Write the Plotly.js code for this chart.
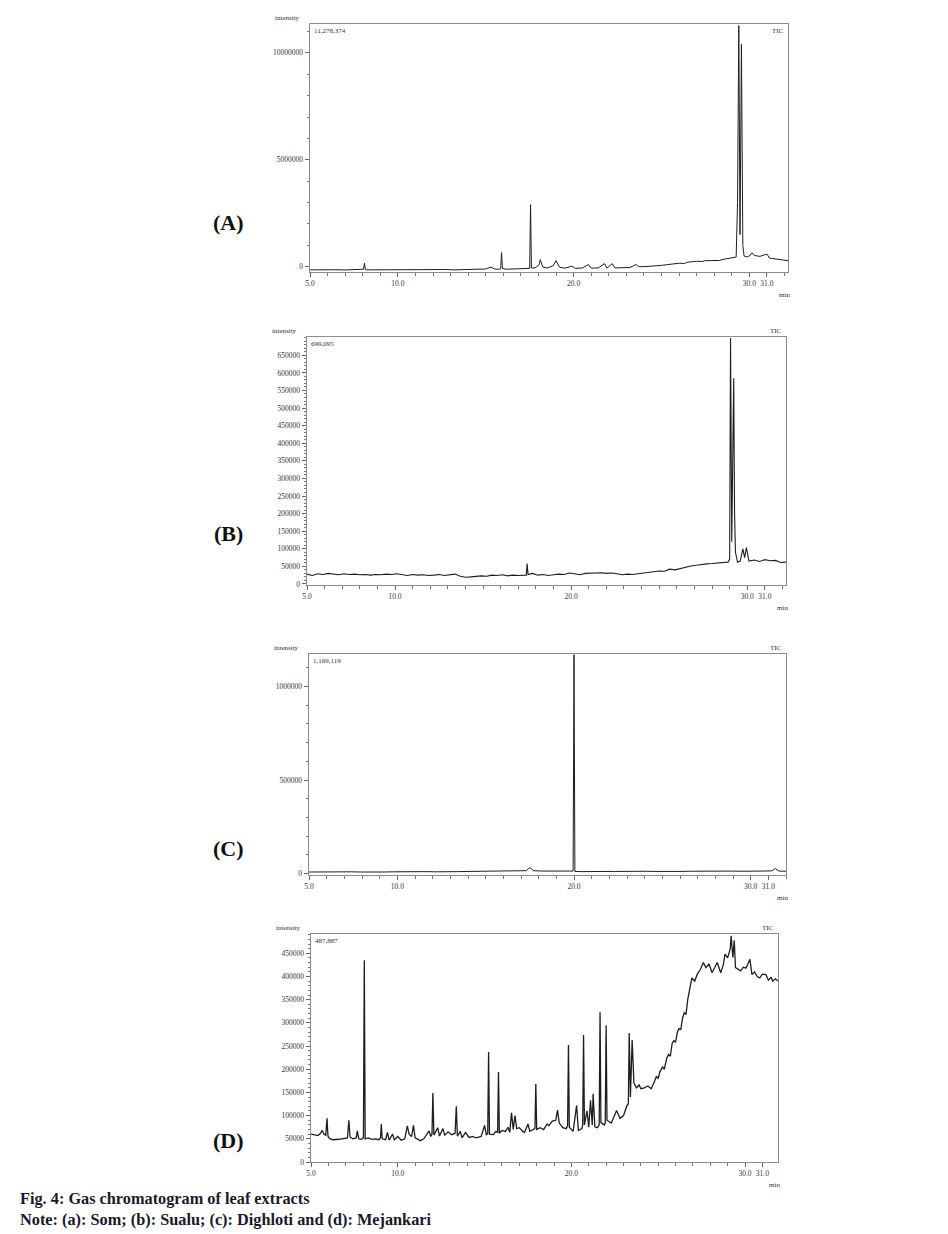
<!DOCTYPE html>
<html><head><meta charset="utf-8">
<script src="https://cdn.plot.ly/plotly-3.0.1.min.js"></script>
<style>html,body{margin:0;padding:0;background:#fff;}#chart{width:948px;height:1234px;}</style>
</head><body><div id="chart"></div>
<script>
// ---- Panel A: Som ----
const timeA = [5.0,5.5,6.0,6.5,7.0,7.5,8.0,8.05,8.1,8.15,8.2,8.7,9.2,9.7,10.2,10.7,11.2,11.7,12.2,12.7,13.2,13.7,14.2,14.7,15.0,15.3,15.5,15.8,15.85,15.9,15.95,16.2,16.6,17.0,17.4,17.5,17.55,17.6,17.8,18.05,18.1,18.25,18.5,18.85,19.0,19.2,19.5,19.9,20.1,20.5,20.85,21.0,21.4,21.76,21.9,22.2,22.35,22.8,23.2,23.55,23.7,24.0,24.5,25.0,25.3,25.5,26.0,26.3,26.5,27.0,27.3,27.5,28.0,28.3,28.5,29.0,29.25,29.33,29.4,29.47,29.55,29.63,29.7,29.85,30.0,30.15,30.3,30.6,31.0,31.15,31.5,32.0,32.2];
const intensityA = [-150000,-140000,-160000,-145000,-155000,-140000,-150000,-120000,170000,-130000,-150000,-145000,-160000,-140000,-150000,-155000,-140000,-150000,-145000,-135000,-150000,-130000,-140000,-120000,-110000,-20000,-110000,-120000,-100000,660000,-90000,-120000,-110000,-100000,-100000,-80000,2900000,-60000,-60000,100000,330000,-20000,-60000,50000,280000,-30000,-70000,20000,-80000,-60000,100000,-70000,-60000,140000,-70000,140000,-60000,-50000,-40000,100000,0,0,20000,60000,90000,110000,160000,150000,210000,250000,240000,280000,300000,290000,340000,400000,450000,3000000,11278374,1500000,10400000,1000000,500000,450000,500000,650000,520000,480000,590000,400000,350000,300000,280000];

// ---- Panel B: Sualu ----
const timeB = [5.0,5.3,5.6,5.9,6.2,6.5,6.8,7.1,7.4,7.7,8.0,8.3,8.6,8.9,9.2,9.5,9.8,10.1,10.4,10.7,11.0,11.3,11.6,11.9,12.2,12.5,12.8,13.1,13.4,13.7,14.0,14.3,14.6,14.9,15.2,15.5,15.8,16.1,16.4,16.7,17.0,17.3,17.45,17.5,17.55,17.8,18.1,18.4,18.7,19.0,19.3,19.6,19.9,20.2,20.5,20.8,21.1,21.4,21.7,22.0,22.3,22.6,22.9,23.2,23.5,23.8,24.1,24.4,24.7,25.0,25.3,25.6,25.9,26.2,26.5,26.8,27.1,27.4,27.7,28.0,28.3,28.6,28.9,29.0,29.05,29.12,29.18,29.23,29.28,29.33,29.45,29.6,29.75,29.85,29.95,30.1,30.4,30.7,31.0,31.3,31.6,31.9,32.2];
const intensityB = [28000,24000,29000,27000,30000,28000,26000,29000,27000,28000,26000,27000,25000,27000,26000,28000,27000,29000,26000,24000,27000,25000,26000,24000,25000,27000,24000,26000,28000,22000,19000,20000,22000,23000,22000,25000,24000,26000,23000,25000,24000,26000,25000,58000,27000,30000,25000,27000,24000,26000,28000,27000,31000,29000,26000,30000,31000,30000,32000,30000,31000,29000,26000,28000,27000,29000,31000,33000,35000,37000,36000,42000,40000,44000,48000,51000,53000,56000,57000,58000,60000,61000,62000,70000,699095,120000,330000,585000,200000,90000,62000,65000,100000,75000,103000,65000,68000,64000,69000,66000,67000,61000,62000];

// ---- Panel C: Dighloti ----
const timeC = [5.0,5.6,6.2,6.8,7.4,8.0,8.6,9.2,9.8,10.4,11.0,11.6,12.2,12.8,13.4,14.0,14.6,15.2,15.8,16.4,17.0,17.3,17.5,17.7,18.2,18.8,19.4,19.95,20.0,20.05,20.5,21.1,21.7,22.3,22.9,23.5,24.1,24.7,25.3,25.9,26.5,27.1,27.7,28.3,28.9,29.5,30.1,30.7,31.2,31.4,31.6,32.0];
const intensityC = [9000,10000,8000,9000,10000,9000,11000,9000,10000,11000,10000,11000,10000,12000,11000,12000,13000,14000,15000,13000,14000,16000,33000,16000,14000,15000,13000,14000,1169119,12000,11000,13000,12000,12000,13000,12000,13000,12000,14000,12000,13000,14000,12000,13000,14000,13000,12000,14000,15000,27000,14000,13000];

// ---- Panel D: Mejankari ----
const timeD = [5.0,5.2,5.4,5.55,5.65,5.75,5.85,5.92,5.98,6.1,6.3,6.6,6.9,7.1,7.18,7.25,7.4,7.6,7.67,7.75,7.9,8.02,8.07,8.12,8.3,8.5,8.7,8.9,9.0,9.05,9.1,9.3,9.4,9.5,9.7,9.8,10.0,10.2,10.4,10.55,10.65,10.8,10.9,11.0,11.3,11.5,11.8,11.9,11.97,12.02,12.08,12.3,12.4,12.6,12.7,12.9,13.1,13.3,13.37,13.43,13.6,13.7,13.9,14.1,14.3,14.5,14.8,15.0,15.1,15.18,15.23,15.28,15.5,15.65,15.75,15.8,15.85,16.0,16.2,16.35,16.45,16.55,16.65,16.75,16.85,17.0,17.2,17.3,17.5,17.6,17.8,17.9,17.95,18.0,18.2,18.4,18.6,18.7,18.9,19.1,19.2,19.3,19.5,19.7,19.78,19.83,19.88,20.1,20.3,20.4,20.6,20.65,20.7,20.75,20.9,21.0,21.1,21.2,21.25,21.35,21.5,21.6,21.65,21.7,21.9,21.95,22.0,22.05,22.3,22.6,22.8,23.0,23.2,23.28,23.33,23.4,23.5,23.6,23.75,23.9,24.0,24.2,24.4,24.6,24.8,24.9,25.0,25.1,25.25,25.35,25.5,25.6,25.7,25.8,25.9,26.0,26.1,26.2,26.3,26.4,26.5,26.6,26.7,26.8,26.94,27.1,27.25,27.43,27.6,27.75,27.93,28.1,28.25,28.4,28.6,28.75,28.85,29.0,29.15,29.2,29.3,29.38,29.45,29.6,29.75,29.9,30.05,30.17,30.28,30.4,30.55,30.7,30.85,31.0,31.2,31.35,31.5,31.6,31.75,31.9];
const intensityD = [60000,58000,57000,62000,68000,60000,58000,94000,55000,50000,48000,49000,50000,52000,90000,54000,50000,52000,67000,50000,49000,52000,435000,50000,52000,49000,50000,48000,52000,82000,50000,48000,64000,47000,60000,48000,55000,47000,50000,78000,60000,55000,79000,52000,46000,50000,67000,55000,60000,149000,58000,74000,56000,72000,58000,65000,59000,62000,120000,56000,66000,52000,64000,53000,55000,52000,55000,79000,58000,62000,237000,60000,59000,66000,64000,194000,62000,68000,66000,75000,64000,106000,70000,100000,72000,74000,66000,64000,82000,66000,70000,72000,168000,70000,74000,70000,82000,78000,88000,90000,112000,84000,74000,72000,78000,252000,75000,66000,122000,68000,72000,80000,274000,80000,110000,75000,133000,80000,147000,76000,74000,80000,323000,85000,80000,85000,295000,90000,84000,111000,94000,100000,122000,125000,278000,140000,263000,170000,160000,166000,158000,160000,164000,158000,175000,185000,180000,195000,205000,200000,225000,232000,228000,255000,262000,258000,280000,288000,285000,310000,322000,318000,350000,372000,397000,390000,405000,415000,430000,419000,427000,408000,420000,430000,408000,425000,448000,440000,460000,487887,441000,478000,419000,415000,412000,420000,418000,427000,437000,404000,410000,400000,397000,405000,404000,392000,398000,390000,395000,390000];

// tick labels
const xTickVals = [5, 10, 20, 30, 31];
const xTickText = ['5.0', '10.0', '20.0', '30.0', '31.0'];
const yTicksA = [0, 5000000, 10000000];
const yTicksB = [0,50000,100000,150000,200000,250000,300000,350000,400000,450000,500000,550000,600000,650000];
const yTicksC = [0, 500000, 1000000];
const yTicksD = [0,50000,100000,150000,200000,250000,300000,350000,400000,450000];
const maxLabels = ['11,278,374', '699,095', '1,169,119', '487,887'];
const panelLetters = ['(A)', '(B)', '(C)', '(D)'];
const captionLines = ['Fig. 4: Gas chromatogram of leaf extracts', 'Note: (a): Som; (b): Sualu; (c): Dighloti and (d): Mejankari'];

const W = 948, H = 1234;
const px = x => x / W, py = y => 1 - y / H;
const panels = [
  {box:[310,788,24,272], xr:[5,32.2], yr:[-250000,11350000], yt:yTicksA, ym:1000000, t:timeA, v:intensityA, lbl:222, tic:'in', lw:1},
  {box:[307,786,337,585], xr:[5,32.2], yr:[-3000,702000], yt:yTicksB, ym:10000, t:timeB, v:intensityB, lbl:533, tic:'out', lw:1.1},
  {box:[309,786,654,875], xr:[5,32.0], yr:[-7000,1173000], yt:yTicksC, ym:100000, t:timeC, v:intensityC, lbl:848, tic:'out', lw:1},
  {box:[311,778,934,1162], xr:[5,31.9], yr:[0,491600], yt:yTicksD, ym:10000, t:timeD, v:intensityD, lbl:1140, tic:'out', lw:1.3}
];

const tickFont = {family:'Liberation Serif', size:7.5, color:'#333'};
const data = [], layout = {width:W, height:H, margin:{l:0,r:0,t:0,b:0}, showlegend:false,
  paper_bgcolor:'#fff', plot_bgcolor:'#fff', annotations:[]};

panels.forEach((p, i) => {
  const n = i === 0 ? '' : String(i + 1);
  data.push({x:p.t, y:p.v, type:'scatter', mode:'lines', xaxis:'x'+n, yaxis:'y'+n,
    line:{color:'#1e1e1e', width:p.lw}, hoverinfo:'skip'});
  const [l, r, t, b] = p.box;
  const common = {showline:true, mirror:true, linecolor:'#8c8c8c', linewidth:1.4, showgrid:false, zeroline:false,
    ticks:'outside', ticklen:4, tickcolor:'#666', tickwidth:1, tickfont:tickFont, fixedrange:true};
  layout['xaxis'+n] = Object.assign({}, common, {domain:[px(l), px(r)], range:p.xr, anchor:'y'+n,
    tickmode:'array', tickvals:xTickVals, ticktext:xTickText,
    minor:{dtick:1, tick0:5, ticks:'outside', ticklen:3, tickcolor:'#777'}});
  layout['yaxis'+n] = Object.assign({}, common, {domain:[py(b), py(t)], range:p.yr, anchor:'x'+n,
    tickmode:'array', tickvals:p.yt, ticktext:p.yt.map(v => String(v)),
    minor:{dtick:p.ym, tick0:0, ticks:'outside', ticklen:2, tickcolor:'#777'}});
  const A = layout.annotations;
  const small = {family:'Liberation Serif', size:7, color:'#333'};
  A.push({xref:'paper', yref:'paper', x:px(l - 23), y:py(t - 6), text:'intensity', showarrow:false, font:small, xanchor:'center', yanchor:'middle'});
  A.push({xref:'paper', yref:'paper', x:px(l + 2), y:py(t + 7), text:maxLabels[i], showarrow:false, font:small, xanchor:'left', yanchor:'middle'});
  A.push({xref:'paper', yref:'paper', x:px(r - 2), y:p.tic === 'in' ? py(t + 7) : py(t - 6), text:'TIC', showarrow:false, font:small, xanchor:'right', yanchor:'middle'});
  A.push({xref:'paper', yref:'paper', x:px(r - 4), y:py(b + 23), text:'min', showarrow:false, font:small, xanchor:'center', yanchor:'middle'});
  A.push({xref:'paper', yref:'paper', x:px(228), y:py(p.lbl), text:'<b>'+panelLetters[i]+'</b>', showarrow:false,
    font:{family:'Liberation Serif', size:22, color:'#111'}, xanchor:'center', yanchor:'middle'});
});

captionLines.forEach((s, k) => {
  layout.annotations.push({xref:'paper', yref:'paper', x:px(18), y:py(1198 + k * 21), text:'<b>'+s+'</b>', showarrow:false,
    font:{family:'Liberation Serif', size:16.3, color:'#1a1a2a'}, xanchor:'left', yanchor:'middle'});
});

Plotly.newPlot('chart', data, layout, {staticPlot:true, displayModeBar:false});
</script></body></html>
